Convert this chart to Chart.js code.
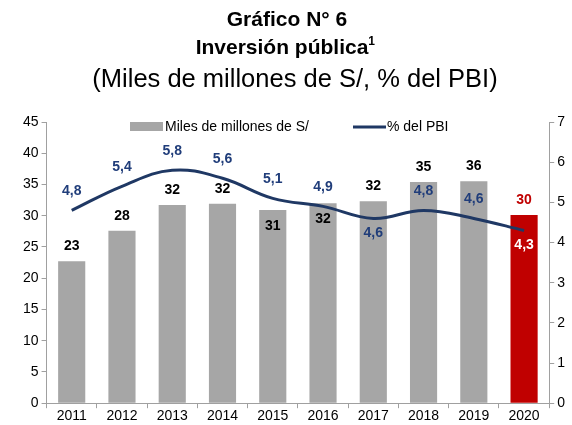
<!DOCTYPE html>
<html>
<head>
<meta charset="utf-8">
<script src="https://cdn.jsdelivr.net/npm/chart.js@4"></script>
<style>
  body { margin: 0; background: #fff; }
  #wrap { width: 572px; height: 425px; }
</style>
</head>
<body>
<div id="wrap"><canvas id="chart" width="572" height="425"></canvas></div>
<script>
const years = ["2011", "2012", "2013", "2014", "2015", "2016", "2017", "2018", "2019", "2020"];
const inversion = [22.7, 27.6, 31.7, 31.9, 30.9, 32.0, 32.3, 35.4, 35.5, 30.1];
const pctPbi = [4.8, 5.4, 5.8, 5.6, 5.1, 4.9, 4.6, 4.8, 4.6, 4.3];
const barLabelPos = ["above", "above", "above", "above", "inside", "inside", "above", "above", "above", "above"];
const lineLabelPos = ["above", "above", "above", "above", "above", "above", "below", "above", "above", "below"];
const leftTicks = [0, 5, 10, 15, 20, 25, 30, 35, 40, 45];
const rightTicks = [0, 1, 2, 3, 4, 5, 6, 7];

const FONT = "'Liberation Sans', Arial, sans-serif";
const GRAY = "#a6a6a6";
const RED = "#c00000";
const NAVY = "#1f3864";
const NAVY_TEXT = "#203d7a";
const AXIS = "#a0a0a0";

// title lines and legend drawn by hand, the labels too
const customDraw = {
    id: "customDraw",
    afterDraw(chart) {
        const ctx = chart.ctx;
        const cx = chart.width / 2;
        ctx.save();
        ctx.fillStyle = "#000";
        ctx.textAlign = "center";
        ctx.textBaseline = "middle";
        ctx.font = "bold 21px " + FONT;
        ctx.fillText("Gráfico N° 6", cx + 1, 20);
        const t2 = "Inversión pública";
        const w2 = ctx.measureText(t2).width;
        ctx.fillText(t2, cx - 4, 48);
        ctx.font = "bold 12px " + FONT;
        ctx.textAlign = "left";
        ctx.fillText("1", cx - 4 + w2 / 2, 42);
        ctx.textAlign = "center";
        ctx.font = "25.5px " + FONT;
        ctx.fillText("(Miles de millones de S/, % del PBI)", 295, 80);

        // legend
        const ly = 127;
        ctx.font = "14px " + FONT;
        ctx.textAlign = "left";
        ctx.fillStyle = GRAY;
        ctx.fillRect(130, ly - 5, 33, 9);
        ctx.fillStyle = "#000";
        ctx.fillText(chart.data.datasets[0].label, 165, ly);
        ctx.strokeStyle = NAVY;
        ctx.lineWidth = 3;
        ctx.beginPath();
        ctx.moveTo(353, ly);
        ctx.lineTo(386, ly);
        ctx.stroke();
        ctx.fillText(chart.data.datasets[1].label, 387, ly);

        // value labels
        ctx.font = "bold 14px " + FONT;
        ctx.textAlign = "center";
        const barMeta = chart.getDatasetMeta(0);
        barMeta.data.forEach((bar, i) => {
            const y = barLabelPos[i] === "above" ? bar.y - 15 : bar.y + 16;
            ctx.fillStyle = i === years.length - 1 ? RED : "#000";
            ctx.fillText(Math.round(inversion[i]).toString(), bar.x, y);
        });
        const lineMeta = chart.getDatasetMeta(1);
        lineMeta.data.forEach((pt, i) => {
            const y = lineLabelPos[i] === "above" ? pt.y - 19 : pt.y + 15;
            ctx.fillStyle = i === years.length - 1 ? "#fff" : NAVY_TEXT;
            ctx.fillText(pctPbi[i].toFixed(1).replace(".", ","), pt.x, y);
        });
        ctx.restore();
    }
};

new Chart(document.getElementById("chart"), {
    data: {
        labels: years,
        datasets: [
            {
                type: "bar",
                label: "Miles de millones de S/",
                data: inversion,
                yAxisID: "y",
                backgroundColor: years.map((y, i) => i === years.length - 1 ? RED : GRAY),
                barPercentage: 0.54,
                categoryPercentage: 1,
                order: 1
            },
            {
                type: "line",
                label: "% del PBI",
                data: pctPbi,
                yAxisID: "y1",
                borderColor: NAVY,
                borderWidth: 3,
                tension: 0.4,
                pointRadius: 0,
                fill: false,
                order: 0
            }
        ]
    },
    options: {
        responsive: false,
        animation: false,
        layout: { padding: { top: 122, left: 20, right: 4, bottom: 0 } },
        plugins: {
            legend: { display: false },
            tooltip: { enabled: false },
            title: { display: false }
        },
        scales: {
            x: {
                grid: { display: true, drawOnChartArea: false, tickLength: 5, color: AXIS },
                border: { color: AXIS, width: 1 },
                ticks: { color: "#000", font: { family: FONT, size: 14 }, padding: 0, maxRotation: 0 }
            },
            y: {
                position: "left",
                min: 0,
                max: 45,
                afterBuildTicks: axis => { axis.ticks = leftTicks.map(v => ({ value: v })); },
                grid: { display: true, drawOnChartArea: false, tickLength: 5, color: AXIS },
                border: { color: AXIS, width: 1 },
                ticks: { color: "#000", font: { family: FONT, size: 14 }, padding: 3 }
            },
            y1: {
                position: "right",
                min: 0,
                max: 7,
                afterBuildTicks: axis => { axis.ticks = rightTicks.map(v => ({ value: v })); },
                grid: { display: true, drawOnChartArea: false, tickLength: 5, color: AXIS },
                border: { color: AXIS, width: 1 },
                ticks: { color: "#000", font: { family: FONT, size: 14 }, padding: 3 }
            }
        }
    },
    plugins: [customDraw]
});
</script>
</body>
</html>
